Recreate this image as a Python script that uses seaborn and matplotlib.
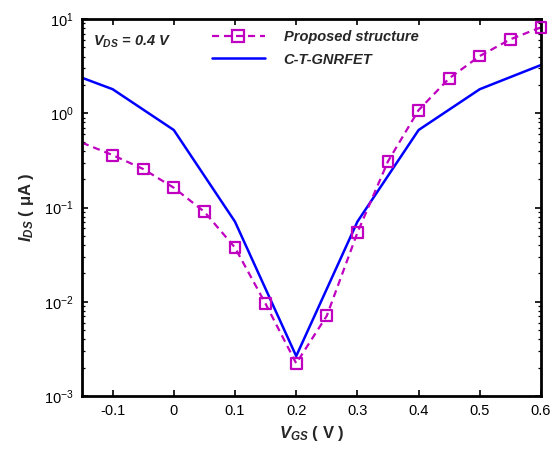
import matplotlib
matplotlib.use("Agg")
import matplotlib.pyplot as plt
import seaborn as sns
import pandas as pd
from matplotlib.lines import Line2D
from matplotlib.ticker import LogLocator, FixedLocator, NullFormatter

# ---- data ----
vgs_prop = [-0.15, -0.10, -0.05, 0.00, 0.05, 0.10, 0.15, 0.20, 0.25, 0.30,
            0.35, 0.40, 0.45, 0.50, 0.55, 0.60]
ids_prop = [0.487, 0.36, 0.256, 0.162, 0.090, 0.0375, 0.0095, 0.00222, 0.0071,
            0.054, 0.309, 1.08, 2.35, 4.05, 6.09, 8.17]
vgs_ct = [-0.15, -0.10, 0.00, 0.10, 0.20, 0.30, 0.40, 0.50, 0.60]
ids_ct = [2.38, 1.80, 0.664, 0.0707, 0.00265, 0.0707, 0.664, 1.80, 3.25]
x_ticks = [-0.1, 0, 0.1, 0.2, 0.3, 0.4, 0.5, 0.6]
x_tick_labels = ["-0.1", "0", "0.1", "0.2", "0.3", "0.4", "0.5", "0.6"]
label_prop = "Proposed structure"
label_ct = "C-T-GNRFET"

sns.set_style("white")
plt.rcParams["font.family"] = ["Liberation Sans", "DejaVu Sans"]
plt.rcParams["mathtext.fontset"] = "custom"
plt.rcParams["mathtext.rm"] = "Liberation Sans:bold"
plt.rcParams["mathtext.it"] = "Liberation Sans:italic:bold"
plt.rcParams["mathtext.bf"] = "Liberation Sans:bold"
plt.rcParams["mathtext.default"] = "regular"

MAG = "#C000C0"
BLUE = "#0000FF"

df_prop = pd.DataFrame({"VGS": vgs_prop, "IDS": ids_prop})
df_ct = pd.DataFrame({"VGS": vgs_ct, "IDS": ids_ct})

fig = plt.figure(figsize=(5.58, 4.5), dpi=100)
ax = fig.add_axes([82 / 558, 1 - 396 / 450, (541 - 82) / 558, (396 - 19) / 450])

sns.lineplot(data=df_ct, x="VGS", y="IDS", ax=ax, color=BLUE, linewidth=1.8,
             sort=False, errorbar=None, legend=False)
sns.lineplot(data=df_prop, x="VGS", y="IDS", ax=ax, color=MAG, linewidth=1.6,
             linestyle=(0, (3.2, 2.2)), sort=False, errorbar=None, legend=False)
sns.scatterplot(data=df_prop.iloc[1:], x="VGS", y="IDS", ax=ax, marker="s",
                s=62, facecolor="none", edgecolor=MAG, linewidth=1.6,
                legend=False, zorder=3, clip_on=False)

ax.set_yscale("log")
ax.set_xlim(-0.15, 0.6)
ax.set_ylim(1e-3, 1e1)
ax.xaxis.set_major_locator(FixedLocator(x_ticks))
ax.set_xticklabels(x_tick_labels)
ax.yaxis.set_major_locator(LogLocator(base=10, numticks=10))
ax.yaxis.set_minor_locator(LogLocator(base=10, subs=range(2, 10), numticks=10))
ax.yaxis.set_minor_formatter(NullFormatter())

for sp in ax.spines.values():
    sp.set_linewidth(2.0)
    sp.set_color("black")
ax.tick_params(which="both", direction="in", top=True, right=True,
               bottom=True, left=True, colors="black", labelsize=10.5)
ax.tick_params(which="major", length=4, width=1.2, pad=6)
ax.tick_params(which="minor", length=2.5, width=0.9)

ax.set_xlabel(r"$\mathit{V}_{\mathit{GS}}$ ( V )", fontsize=12, fontweight="bold",
              labelpad=4)
ax.set_ylabel(r"$\mathit{I}_{\mathit{DS}}$ ( μA )", fontsize=12, fontweight="bold",
              labelpad=6)

ax.text(0.025, 0.94, r"$\mathit{V}_{\mathit{DS}}$ = 0.4 V", transform=ax.transAxes,
        fontsize=10.5, fontweight="bold", fontstyle="italic", va="center", ha="left")

handles = [
    Line2D([], [], color=MAG, linewidth=1.6, linestyle=(0, (3.2, 2.2)), marker="s",
           markersize=8, markerfacecolor="none", markeredgecolor=MAG,
           markeredgewidth=1.6),
    Line2D([], [], color=BLUE, linewidth=1.8),
]
ax.legend(handles, [label_prop, label_ct], loc="upper left",
          bbox_to_anchor=(0.271, 0.985), frameon=False, handlelength=3.6,
          handletextpad=1.3, labelspacing=0.55, borderaxespad=0, numpoints=1,
          prop={"weight": "bold", "style": "italic", "size": 10.5,
                "family": "Liberation Sans"})

fig.savefig("out.png", dpi=100)
